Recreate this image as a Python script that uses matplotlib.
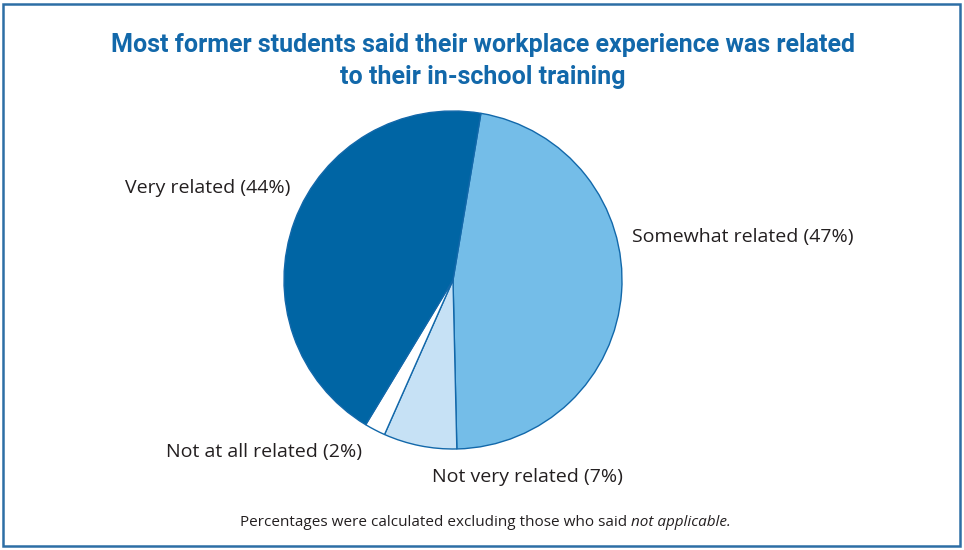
import matplotlib.pyplot as plt
from matplotlib.patches import Rectangle

# pie data, in clockwise order starting just right of 12 o'clock
labels = ['Somewhat related', 'Not very related', 'Not at all related', 'Very related']
shares = [47, 7, 2, 44]
colors = ['#74bde8', '#c6e1f5', '#ffffff', '#0065a4']

title_lines = ['Most former students said their workplace experience was related',
               'to their in-school training']
note_text = 'Percentages were calculated excluding those who said '
note_italic = 'not applicable.'

blue = '#1268aa'
dark = '#231f20'

fig = plt.figure(figsize=(9.64, 5.5), dpi=100)
ax = fig.add_axes([0, 0, 1, 1])

# frame around the whole chart
fig.patches.append(Rectangle((3 / 964, 4 / 550), 957 / 964, 542 / 550,
                             transform=fig.transFigure, fill=False,
                             edgecolor='#2d6ea5', linewidth=1.8))

ax.pie(shares, colors=colors, startangle=80.5, counterclock=False,
       center=(453, 270), radius=169, frame=True,
       wedgeprops=dict(edgecolor=blue, linewidth=1.0))
ax.set_xlim(0, 964)
ax.set_ylim(0, 550)
ax.set_aspect('equal')
ax.axis('off')

# title
tfont = dict(family=['Roboto', 'DejaVu Sans'], fontweight='bold',
             fontsize=18, color=blue, ha='center', va='center')
ax.text(483, 550 - 45, title_lines[0], **tfont)
ax.text(483, 550 - 77, title_lines[1], **tfont)

# slice labels
lfont = dict(family=['Open Sans', 'DejaVu Sans'], fontsize=14, color=dark, va='center')
ax.text(290, 550 - 188, f'{labels[3]} ({shares[3]}%)', ha='right', **lfont)
ax.text(632, 550 - 237, f'{labels[0]} ({shares[0]}%)', ha='left', **lfont)
ax.text(362, 550 - 452, f'{labels[2]} ({shares[2]}%)', ha='right', **lfont)
ax.text(432, 550 - 477, f'{labels[1]} ({shares[1]}%)', ha='left', **lfont)

# footnote with italic end
nfont = dict(family=['Open Sans', 'DejaVu Sans'], fontsize=11, color=dark, va='center')
t1 = ax.text(0, 550 - 522, note_text, ha='left', **nfont)
t2 = ax.text(0, 550 - 522, note_italic, ha='left', style='italic', **nfont)
fig.canvas.draw()
r = fig.canvas.get_renderer()
w1 = t1.get_window_extent(r).width
w2 = t2.get_window_extent(r).width
x0 = 485 - (w1 + w2) / 2
t1.set_x(x0)
t2.set_x(x0 + w1)

fig.savefig('out.png', dpi=100)
